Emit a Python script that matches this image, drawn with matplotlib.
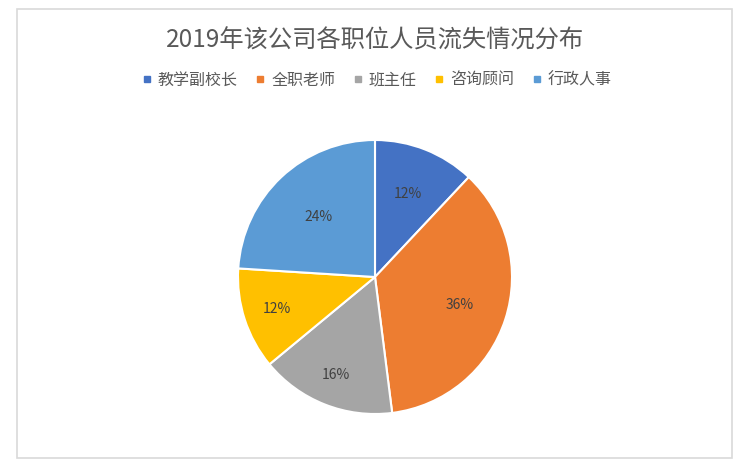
import matplotlib
matplotlib.use("Agg")
import numpy as np
import matplotlib.pyplot as plt
from matplotlib.lines import Line2D
from matplotlib.patches import Rectangle

plt.rcParams['font.family'] = ['Noto Sans CJK SC', 'DejaVu Sans']

# data
categories = ['教学副校长', '全职老师', '班主任', '咨询顾问', '行政人事']
shares = [12, 36, 16, 12, 24]
colors = ['#4472C4', '#ED7D31', '#A5A5A5', '#FFC000', '#5B9BD5']
title = '2019年该公司各职位人员流失情况分布'

# how far out each percentage label sits (fraction of radius), as in Excel
label_dist = [0.65, 0.65, 0.77, 0.75, 0.6]

fig = plt.figure(figsize=(7.4, 4.67), dpi=100)

# light grey chart border
fig.patches.append(Rectangle((17 / 740, 1 - 458 / 467), 715 / 740, 449 / 467,
                             transform=fig.transFigure, fill=False,
                             edgecolor='#D9D9D9', linewidth=1.2))

ax = fig.add_axes([(375 - 137) / 740, (467 - 277 - 137) / 467,
                   274 / 740, 274 / 467])
wedges, texts, autotexts = ax.pie(
    shares, colors=colors, startangle=90, counterclock=False,
    autopct='%d%%', pctdistance=0.65,
    wedgeprops=dict(edgecolor='white', linewidth=1.5),
    textprops=dict(color='#404040', fontsize=10),
)
for w, t, d in zip(wedges, autotexts, label_dist):
    ang = np.deg2rad((w.theta1 + w.theta2) / 2)
    t.set_position((d * np.cos(ang), d * np.sin(ang)))

ax.set_xlim(-1, 1)
ax.set_ylim(-1, 1)
ax.set_aspect('equal')

fig.text(375 / 740, 1 - 41 / 467, title, ha='center', va='center',
         fontsize=17.5, color='#595959')

handles = [Line2D([], [], marker='s', linestyle='none', markersize=4.5,
                  markerfacecolor=c, markeredgecolor=c) for c in colors]
fig.legend(handles, categories, loc='center', ncol=5,
           bbox_to_anchor=(377 / 740, 1 - 80 / 467), frameon=False,
           fontsize=11.5, labelcolor='#595959', handlelength=0.6,
           handletextpad=0.4, columnspacing=1.1)

fig.savefig('out.png', dpi=100)
